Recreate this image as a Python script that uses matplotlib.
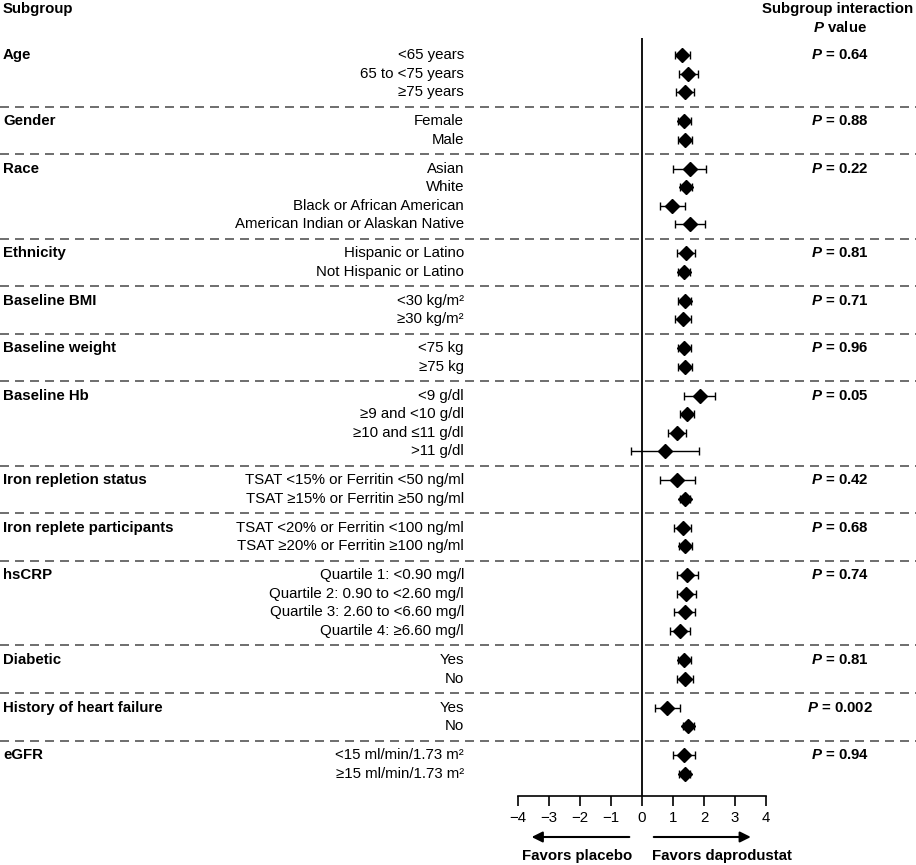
import numpy as np
import matplotlib.pyplot as plt
import matplotlib.transforms as mtransforms

plt.rcParams['font.family'] = 'Liberation Sans'
plt.rcParams['mathtext.fontset'] = 'custom'
plt.rcParams['mathtext.it'] = 'Liberation Sans:italic:bold'
plt.rcParams['mathtext.rm'] = 'Liberation Sans:bold'

fs = 10.8

groups = ["Age", "Gender", "Race", "Ethnicity", "Baseline BMI", "Baseline weight",
          "Baseline Hb", "Iron repletion status", "Iron replete participants", "hsCRP",
          "Diabetic", "History of heart failure", "eGFR"]
n_per_group = [3, 2, 4, 2, 2, 2, 4, 2, 2, 4, 2, 2, 2]
p_values = ["0.64", "0.88", "0.22", "0.81", "0.71", "0.96", "0.05", "0.42", "0.68",
            "0.74", "0.81", "0.002", "0.94"]

sub_labels = [
    "<65 years", "65 to <75 years", "≥75 years",
    "Female", "Male",
    "Asian", "White", "Black or African American", "American Indian or Alaskan Native",
    "Hispanic or Latino", "Not Hispanic or Latino",
    "<30 kg/m²", "≥30 kg/m²",
    "<75 kg", "≥75 kg",
    "<9 g/dl", "≥9 and <10 g/dl", "≥10 and ≤11 g/dl", ">11 g/dl",
    "TSAT <15% or Ferritin <50 ng/ml", "TSAT ≥15% or Ferritin ≥50 ng/ml",
    "TSAT <20% or Ferritin <100 ng/ml", "TSAT ≥20% or Ferritin ≥100 ng/ml",
    "Quartile 1: <0.90 mg/l", "Quartile 2: 0.90 to <2.60 mg/l",
    "Quartile 3: 2.60 to <6.60 mg/l", "Quartile 4: ≥6.60 mg/l",
    "Yes", "No",
    "Yes", "No",
    "<15 ml/min/1.73 m²", "≥15 ml/min/1.73 m²",
]
est = np.array([1.30, 1.48, 1.39, 1.37, 1.40, 1.54, 1.41, 0.96, 1.54, 1.42, 1.35,
                1.39, 1.31, 1.35, 1.39, 1.86, 1.44, 1.12, 0.74, 1.14, 1.40, 1.31,
                1.40, 1.46, 1.43, 1.38, 1.22, 1.35, 1.40, 0.82, 1.48, 1.35, 1.39])
ci_low = np.array([1.05, 1.18, 1.09, 1.15, 1.15, 1.00, 1.22, 0.57, 1.05, 1.12, 1.16,
                   1.16, 1.05, 1.15, 1.15, 1.37, 1.22, 0.84, -0.37, 0.59, 1.23, 1.04,
                   1.19, 1.13, 1.13, 1.04, 0.90, 1.15, 1.14, 0.43, 1.32, 1.01, 1.19])
ci_high = np.array([1.56, 1.80, 1.69, 1.57, 1.62, 2.06, 1.62, 1.39, 2.02, 1.71, 1.56,
                    1.57, 1.58, 1.58, 1.60, 2.37, 1.68, 1.41, 1.85, 1.72, 1.55, 1.58,
                    1.60, 1.80, 1.75, 1.72, 1.55, 1.57, 1.65, 1.22, 1.67, 1.70, 1.55])

# row positions: one unit per row, extra gap between groups
gap = 0.57
ypos = []
first_row = []
last_row = []
i = 0
for g, n in enumerate(n_per_group):
    first_row.append(i + g * gap)
    for k in range(n):
        ypos.append(i + g * gap)
        i += 1
    last_row.append(ypos[-1])
ypos = np.array(ypos)

W, H = 916, 865
fig = plt.figure(figsize=(W / 100, H / 100), dpi=100)
ax = fig.add_axes([518 / W, (H - 796) / H, 248 / W, (796 - 38) / H])
ax.set_xlim(-4, 4)
ax.set_ylim(40.05, -0.92)

ax.errorbar(est, ypos, xerr=[est - ci_low, ci_high - est], fmt='D', color='black',
            ms=7, capsize=3, elinewidth=1, capthick=1)
ax.axvline(0, color='black', lw=1.3)

for s in ['left', 'right', 'top']:
    ax.spines[s].set_visible(False)
ax.spines['bottom'].set_linewidth(1.2)
ax.set_yticks([])
ax.set_xticks(range(-4, 5))
ax.tick_params(axis='x', direction='out', length=7, width=1.2, labelsize=fs, pad=4)

blend = mtransforms.blended_transform_factory(fig.transFigure, ax.transData)

for y, lab in zip(ypos, sub_labels):
    ax.text(464 / W, y, lab, transform=blend, ha='right', va='center', fontsize=fs)

for g, name in enumerate(groups):
    ax.text(3 / W, first_row[g], name, transform=blend, ha='left', va='center',
            fontsize=fs, fontweight='bold')
    ax.text(840 / W, first_row[g], rf"$P$ = {p_values[g]}", transform=blend,
            ha='center', va='center', fontsize=fs, fontweight='bold')

# dashed separators across the whole width
for g in range(len(groups) - 1):
    y = (last_row[g] + first_row[g + 1]) / 2
    ax.plot([0, 1], [y, y], transform=blend, clip_on=False, ls=(0, (5.4, 3.6)),
            color='#555555', lw=1.2)

# headers
fig.text(3 / W, 1 - 9 / H, "Subgroup", ha='left', va='center', fontsize=fs, fontweight='bold')
fig.text(838 / W, 1 - 9 / H, "Subgroup interaction", ha='center', va='center',
         fontsize=fs, fontweight='bold')
fig.text(840 / W, 1 - 27 / H, "$P$ value", ha='center', va='center', fontsize=fs,
         fontweight='bold')

# favors arrows
xt = ax.get_xaxis_transform()
ya = -(837 - 796) / 758
yt = -(856 - 796) / 758
ax.annotate('', xy=(-3.65, ya), xytext=(-0.32, ya), xycoords=xt, textcoords=xt,
            annotation_clip=False,
            arrowprops=dict(arrowstyle='-|>', color='black', lw=1.5, mutation_scale=16))
ax.annotate('', xy=(3.6, ya), xytext=(0.29, ya), xycoords=xt, textcoords=xt,
            annotation_clip=False,
            arrowprops=dict(arrowstyle='-|>', color='black', lw=1.5, mutation_scale=16))
ax.text(-2.1, yt, "Favors placebo", transform=xt, ha='center', va='center',
        fontsize=fs, fontweight='bold')
ax.text(2.58, yt, "Favors daprodustat", transform=xt, ha='center', va='center',
        fontsize=fs, fontweight='bold')

fig.savefig("out.png", dpi=100)
